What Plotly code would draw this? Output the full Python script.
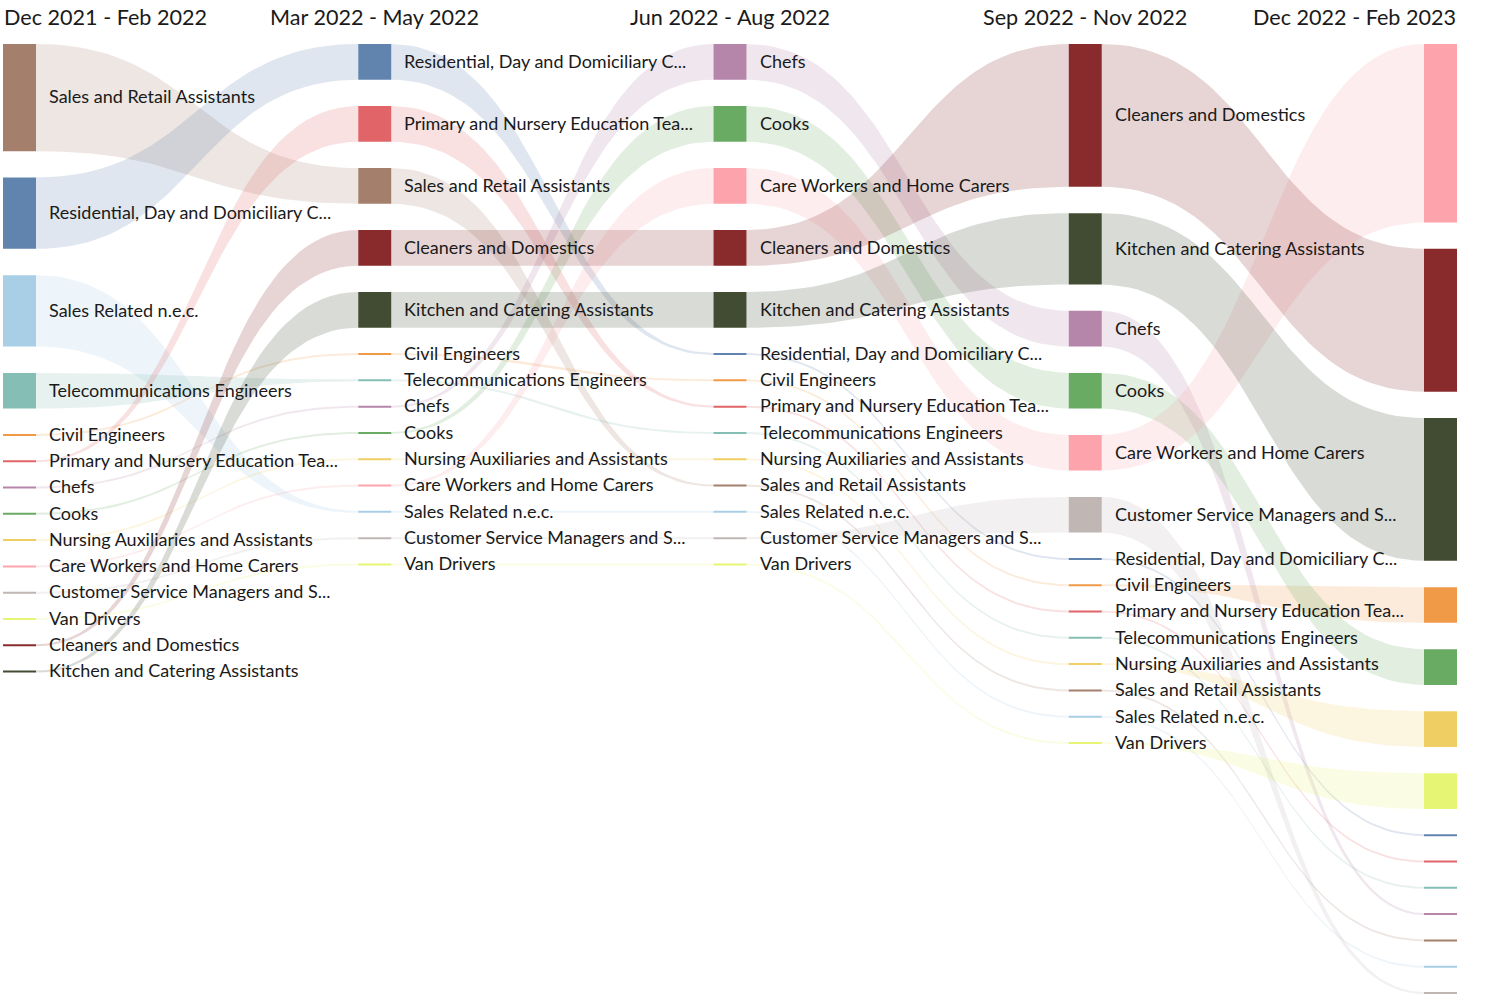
import plotly.graph_objects as go

# periods (columns) shown across the top
PERIODS = ["Dec 2021 - Feb 2022", "Mar 2022 - May 2022", "Jun 2022 - Aug 2022",
           "Sep 2022 - Nov 2022", "Dec 2022 - Feb 2023"]

OCCUPATIONS = [
    "Sales and Retail Assistants",
    "Residential, Day and Domiciliary C...",
    "Sales Related n.e.c.",
    "Telecommunications Engineers",
    "Civil Engineers",
    "Primary and Nursery Education Tea...",
    "Chefs",
    "Cooks",
    "Nursing Auxiliaries and Assistants",
    "Care Workers and Home Carers",
    "Customer Service Managers and S...",
    "Van Drivers",
    "Cleaners and Domestics",
    "Kitchen and Catering Assistants",
]

COLORS = ["#a4806c", "#6184af", "#a8cfe6", "#85beb5", "#f09a48", "#e06468", "#b585aa",
          "#6aab64", "#efcf63", "#fca3ab", "#c0b6b3", "#e6f573", "#892b2d", "#424c32"]

# value of each occupation in each period (same order as OCCUPATIONS)
VALUES_P1 = [3, 2, 2, 1, 0, 0, 0, 0, 0, 0, 0, 0, 0, 0]
VALUES_P2 = [1, 1, 0, 0, 0, 1, 0, 0, 0, 0, 0, 0, 1, 1]
VALUES_P3 = [0, 0, 0, 0, 0, 0, 1, 1, 0, 1, 0, 0, 1, 1]
VALUES_P4 = [0, 0, 0, 0, 0, 0, 1, 1, 0, 1, 1, 0, 4, 2]
VALUES_P5 = [0, 0, 0, 0, 1, 0, 0, 1, 1, 5, 0, 1, 4, 4]

# top-to-bottom order of occupations in each column (indices into OCCUPATIONS)
ORDER_P1 = [0, 1, 2, 3, 4, 5, 6, 7, 8, 9, 10, 11, 12, 13]
ORDER_P2 = [1, 5, 0, 12, 13, 4, 3, 6, 7, 8, 9, 2, 10, 11]
ORDER_P3 = [6, 7, 9, 12, 13, 1, 4, 5, 3, 8, 0, 2, 10, 11]
ORDER_P4 = [12, 13, 6, 7, 9, 10, 1, 4, 5, 3, 8, 0, 2, 11]
ORDER_P5 = [9, 12, 13, 4, 7, 8, 11, 1, 5, 3, 6, 0, 2, 10]

VALUES = [VALUES_P1, VALUES_P2, VALUES_P3, VALUES_P4, VALUES_P5]
ORDERS = [ORDER_P1, ORDER_P2, ORDER_P3, ORDER_P4, ORDER_P5]

W, H = 1485, 1004
TOP, BOTTOM = 44, 993
PAD = 26.3
X_LEFT, X_RIGHT, NODE_W = 3, 1457, 33
THIN = 2
FONT = "Lato, 'Open Sans', sans-serif"

n_cols = len(PERIODS)
col_x = [X_LEFT + i * (X_RIGHT - NODE_W - X_LEFT) / (n_cols - 1) for i in range(n_cols)]
unit = (BOTTOM - TOP - PAD * (len(OCCUPATIONS) - 1)) / max(sum(v) for v in VALUES)

# node positions: pos[col][occ] = (y0, y1)
pos = []
for c in range(n_cols):
    y = TOP
    p = {}
    for occ in ORDERS[c]:
        h = VALUES[c][occ] * unit
        if h == 0:
            p[occ] = (y - THIN / 2, y + THIN / 2)
        else:
            p[occ] = (y, y + h)
        y += h + PAD
    pos.append(p)


def rgba(hex_color, a):
    h = hex_color.lstrip("#")
    r, g, b = int(h[0:2], 16), int(h[2:4], 16), int(h[4:6], 16)
    return f"rgba({r},{g},{b},{a})"


def bezier(xa, ya, xb, yb, n=50):
    xm = (xa + xb) / 2
    xs, ys = [], []
    for i in range(n + 1):
        t = i / n
        u = 1 - t
        xs.append(u**3 * xa + 3 * u * u * t * xm + 3 * u * t * t * xm + t**3 * xb)
        ys.append(u**3 * ya + 3 * u * u * t * ya + 3 * u * t * t * yb + t**3 * yb)
    return xs, ys


fig = go.Figure()

# links
for c in range(n_cols - 1):
    xa = col_x[c] + NODE_W
    xb = col_x[c + 1]
    for occ in range(len(OCCUPATIONS)):
        a0, a1 = pos[c][occ]
        b0, b1 = pos[c + 1][occ]
        tx, ty = bezier(xa, a0, xb, b0)
        bx, by = bezier(xa, a1, xb, b1)
        fig.add_trace(go.Scatter(
            x=tx + bx[::-1], y=ty + by[::-1], mode="lines", fill="toself",
            fillcolor=rgba(COLORS[occ], 0.2), line=dict(width=0),
            hoverinfo="skip", showlegend=False))

shapes = []
annotations = []
for c in range(n_cols):
    for occ in ORDERS[c]:
        y0, y1 = pos[c][occ]
        shapes.append(dict(type="rect", xref="x", yref="y", x0=col_x[c], x1=col_x[c] + NODE_W,
                           y0=y0, y1=y1, fillcolor=COLORS[occ], line=dict(width=0), layer="above"))
        if c < n_cols - 1:
            annotations.append(dict(x=col_x[c] + NODE_W + 11, y=(y0 + y1) / 2 - 1.2, xref="x", yref="y",
                                    text=OCCUPATIONS[occ], showarrow=False, xanchor="left",
                                    yanchor="middle", font=dict(family=FONT, size=18, color="#1a1a1a")))

for c, period in enumerate(PERIODS):
    if c == 0:
        x, anchor = col_x[c] - 1, "left"
    elif c == n_cols - 1:
        x, anchor = col_x[c] + NODE_W + 1, "right"
    else:
        x, anchor = col_x[c] + NODE_W / 2, "center"
    annotations.append(dict(x=x, y=17, xref="x", yref="y", text=period, showarrow=False,
                            xanchor=anchor, yanchor="middle",
                            font=dict(family=FONT, size=21.6, color="#1a1a1a")))

fig.update_layout(
    width=W, height=H,
    margin=dict(l=0, r=0, t=0, b=0),
    paper_bgcolor="white", plot_bgcolor="white",
    xaxis=dict(range=[0, W], visible=False, fixedrange=True),
    yaxis=dict(range=[H, 0], visible=False, fixedrange=True),
    shapes=shapes, annotations=annotations,
)

fig.write_html("out.html", config={"displayModeBar": False},
               post_script="document.body.style.margin='0';")
